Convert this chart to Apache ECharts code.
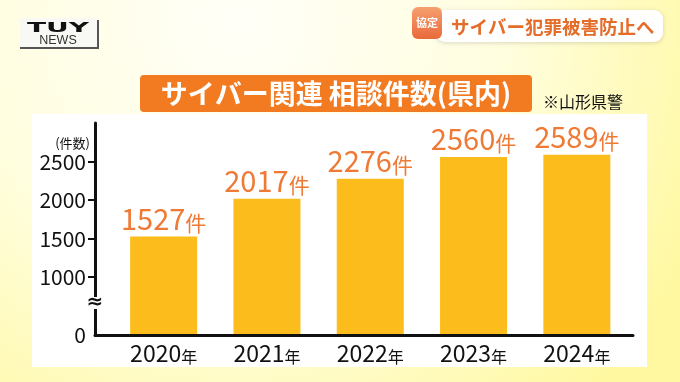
<!DOCTYPE html>
<html><head><meta charset="utf-8">
<script src="https://cdn.jsdelivr.net/npm/echarts@6/dist/echarts.min.js"></script>
<style>html,body{margin:0;padding:0;background:#fffde0;}#c{width:680px;height:382px;}</style>
</head><body><div id="c"></div>
<script>
// ---- data ----
const categories = ['2020年', '2021年', '2022年', '2023年', '2024年'];
const counts = [1527, 2017, 2276, 2560, 2589];
const yTickValues = [1000, 1500, 2000, 2500];
const breakBase = 250;   // broken-axis baseline, labelled "0"
const yMax = 3000;
const titleText = 'サイバー関連 相談件数(県内)';
const sourceText = '※山形県警';
const unitText = '(件数)';
const headlineTag = '協定';
const headlineText = 'サイバー犯罪被害防止へ';

const FONT = '"Noto Sans CJK JP", "Noto Sans", sans-serif';
const chart = echarts.init(document.getElementById('c'), null, {renderer: 'canvas'});

const option = {
  animation: false,
  backgroundColor: 'transparent',
  grid: [
    {left: 95, right: 47, top: 123, bottom: 47},
    {left: 112, right: 51.5, top: 123, bottom: 47}
  ],
  xAxis: [
    {type: 'value', gridIndex: 0, min: 0, max: 1, z: 5,
     axisLine: {show: true, lineStyle: {color: '#111', width: 3}},
     axisTick: {show: false}, axisLabel: {show: false}, splitLine: {show: false}},
    {type: 'category', gridIndex: 1, data: categories,
     axisLine: {show: false}, axisTick: {show: false},
     axisLabel: {margin: 4, color: '#111', fontFamily: FONT,
       formatter: v => '{y|' + v.slice(0, -1) + '}{n|' + v.slice(-1) + '}',
       rich: {y: {fontSize: 23, fontFamily: FONT, color: '#111', verticalAlign: 'bottom', lineHeight: 26},
              n: {fontSize: 16, fontFamily: FONT, color: '#111', verticalAlign: 'bottom', lineHeight: 24}}}}
  ],
  yAxis: [
    {type: 'value', gridIndex: 0, min: breakBase, max: yMax, z: 5,
     axisLine: {show: true, lineStyle: {color: '#111', width: 3}},
     axisTick: {show: true, length: 7, lineStyle: {color: '#111', width: 2}, customValues: yTickValues},
     axisLabel: {show: true, margin: 9, color: '#111', fontSize: 21, fontFamily: FONT,
       customValues: [breakBase].concat(yTickValues),
       formatter: v => (v === breakBase ? '0' : String(v))},
     splitLine: {show: false}},
    {type: 'value', gridIndex: 1, min: breakBase, max: yMax, show: false, splitLine: {show: false}}
  ],
  series: [{
    type: 'bar', xAxisIndex: 1, yAxisIndex: 1, data: counts, barWidth: 67,
    itemStyle: {color: '#fcbd1c'},
    label: {show: true, position: 'top', distance: 3,
      formatter: '{n|{c}}{u|件}',
      rich: {n: {fontSize: 29, color: '#ee7a36', fontFamily: FONT, verticalAlign: 'bottom', lineHeight: 32},
             u: {fontSize: 21, color: '#ee7a36', fontFamily: FONT, verticalAlign: 'bottom', lineHeight: 29}}}
  }],
  graphic: [
    {type: 'rect', z: -10, shape: {x: 0, y: 0, width: 680, height: 382},
     style: {fill: {type: 'radial', x: 0.35, y: 0.05, r: 1.35,
       colorStops: [{offset: 0, color: '#fffff8'}, {offset: 0.5, color: '#fffee0'}, {offset: 1, color: '#fff8a0'}]}}},
    {type: 'rect', z: -9, shape: {x: 32, y: 114, width: 615, height: 253}, style: {fill: '#ffffff'}},
    // logo
    {type: 'rect', z: 10, shape: {x: 20, y: 18, width: 78, height: 30}, style: {fill: '#f8f8f4'}},
    {type: 'polyline', z: 11, shape: {points: [[98, 20], [98, 48], [20, 48]]}, style: {stroke: '#555', lineWidth: 2, fill: null}},
    {type: 'text', z: 12, x: 58, y: 28, scaleX: 2.0,
     style: {text: 'TUY', fill: '#111', font: 'bold 14px "DejaVu Sans"', align: 'center', verticalAlign: 'middle'}},
    {type: 'text', z: 12, x: 58, y: 40.5,
     style: {text: 'NEWS', fill: '#333', font: '12.5px "Liberation Sans"', align: 'center', verticalAlign: 'middle'}},
    // headline badge
    {type: 'rect', z: 10, shape: {x: 436, y: 10, width: 227, height: 32, r: 9},
     style: {fill: '#ffffff', shadowBlur: 4, shadowColor: 'rgba(0,0,0,0.15)', shadowOffsetY: 1}},
    {type: 'rect', z: 11, shape: {x: 412, y: 7, width: 30, height: 32, r: 6},
     style: {fill: {type: 'linear', x: 0, y: 0, x2: 0, y2: 1,
       colorStops: [{offset: 0, color: '#f6a070'}, {offset: 1, color: '#e9693a'}]}}},
    {type: 'text', z: 12, x: 427, y: 23,
     style: {text: headlineTag, fill: '#fff', font: 'bold 11px ' + FONT, align: 'center', verticalAlign: 'middle'}},
    {type: 'text', z: 12, x: 451, y: 26.5,
     style: {text: headlineText, fill: '#e46d2a', font: 'bold 18.5px ' + FONT, align: 'left', verticalAlign: 'middle'}},
    // title
    {type: 'rect', z: 10, shape: {x: 140, y: 75, width: 392, height: 37, r: 4}, style: {fill: '#f27b22'}},
    {type: 'text', z: 12, x: 336, y: 93.5,
     style: {text: titleText, fill: '#fff', font: 'bold 27px ' + FONT, align: 'center', verticalAlign: 'middle'}},
    {type: 'text', z: 12, x: 543, y: 102,
     style: {text: sourceText, fill: '#111', font: '16px ' + FONT, align: 'left', verticalAlign: 'middle'}},
    // axis unit
    {type: 'text', z: 12, x: 90, y: 143,
     style: {text: unitText, fill: '#111', font: '13px ' + FONT, align: 'right', verticalAlign: 'middle'}},
    // axis break mark
    {type: 'rect', z: 20, shape: {x: 88, y: 297, width: 14, height: 12}, style: {fill: '#ffffff'}},
    {type: 'text', z: 21, x: 95, y: 303,
     style: {text: '≈', fill: '#111', font: 'bold 20px "DejaVu Sans"', align: 'center', verticalAlign: 'middle'}}
  ]
};
chart.setOption(option);
</script>
</body></html>
